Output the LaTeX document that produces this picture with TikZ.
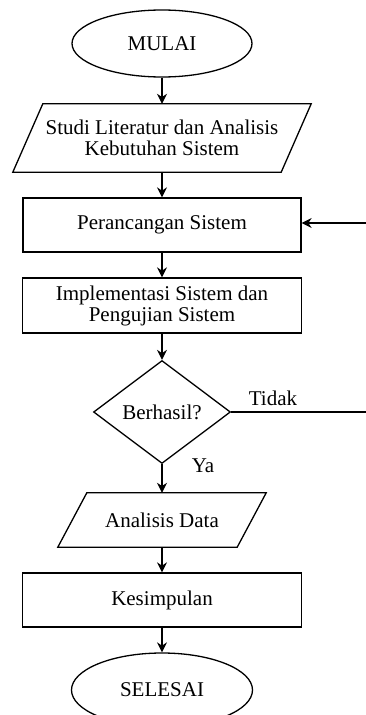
\documentclass[tikz,border=0pt]{standalone}
\usepackage{fontspec}
\setmainfont{Liberation Serif}
\usetikzlibrary{shapes.geometric,arrows.meta,calc}
\begin{document}
\begin{tikzpicture}[x=1pt,y=-1pt,
  every node/.style={font=\fontsize{21}{21}\selectfont, text=black},
  shapeline/.style={draw=black, line width=1.3pt},
  term/.style={ellipse, shapeline, inner sep=0pt},
  procbox/.style={rectangle, shapeline, inner sep=0pt, align=center},
  parabox/.style={rectangle, inner sep=0pt, align=center},
  decision/.style={diamond, shapeline, inner sep=0pt, aspect=1.33},
  arr/.style={draw=black, line width=1.3pt, -{Stealth[length=10pt,width=10pt]}},
  plainline/.style={draw=black, line width=1.3pt}]
\useasboundingbox (0,0) rectangle (366,715);

\node[term, minimum width=180pt, minimum height=67pt] (mulai) at (162,43.5) {MULAI};

\node[parabox, minimum width=298pt, minimum height=68pt] (studi) at (162,138)
  {Studi Literatur dan Analisis\\Kebutuhan Sistem};
\draw[shapeline, line join=miter] (studi.south west) -- ($(studi.south east)+(-30,0)$)
  -- (studi.north east) -- ($(studi.north west)+(30,0)$) -- cycle;

\node[procbox, minimum width=278pt, minimum height=54pt] (peran) at (162,225) {Perancangan Sistem};

\node[procbox, minimum width=279pt, minimum height=55pt] (impl) at (162,305.5)
  {Implementasi Sistem dan\\Pengujian Sistem};

\node[decision, minimum width=137pt, minimum height=103pt] (cek) at (162,412) {Berhasil?};

\node[parabox, minimum width=208pt, minimum height=54pt] (anal) at (162,520) {Analisis Data};
\draw[shapeline, line join=miter] (anal.south west) -- ($(anal.south east)+(-29,0)$)
  -- (anal.north east) -- ($(anal.north west)+(29,0)$) -- cycle;

\node[procbox, minimum width=279pt, minimum height=54pt] (kes) at (162,600) {Kesimpulan};

\node[term, minimum width=181pt, minimum height=74pt] (selesai) at (162,690) {SELESAI};

\coordinate (loopin) at (366,223);
\coordinate (tidakend) at (366,412);
\node (tidak) at (273,398) {Tidak};
\node (ya) at (203,466) {Ya};

\draw[arr] (mulai.south) -- (studi.north);
\draw[arr] (studi.south) -- (peran.north);
\draw[arr] (peran.south) -- (impl.north);
\draw[arr] (impl.south) -- (cek.north);
\draw[arr] (cek.south) -- (anal.north);
\draw[arr] (anal.south) -- (kes.north);
\draw[arr] (kes.south) -- (selesai.north);
\draw[plainline] (cek.east) -- (tidakend);
\draw[arr] (loopin) -- (loopin -| peran.east);
\end{tikzpicture}
\end{document}
